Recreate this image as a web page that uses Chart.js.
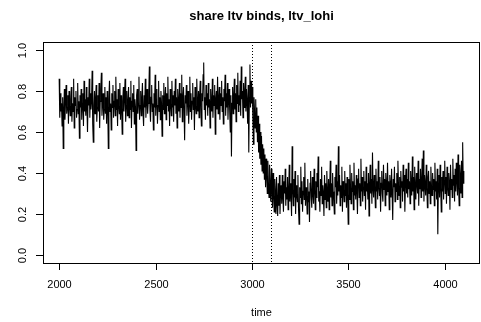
<!DOCTYPE html>
<html>
<head>
<meta charset="utf-8">
<script src="https://cdn.jsdelivr.net/npm/chart.js@4/dist/chart.umd.min.js"></script>
<style>
  html, body { margin: 0; padding: 0; background: #fff; }
  canvas { display: block; }
</style>
</head>
<body>
<canvas id="ltv_chart" width="481" height="322"></canvas>
<script>
// share of ltv binding, sampled every 3 periods from t = 2000
const time_start = 2000;
const time_step = 3;
const share_binds = [
  0.86,0.67,0.79,0.70,0.74,0.63,0.77,0.52,0.71,0.81,0.66,0.75,0.83,0.69,0.72,0.78,0.64,0.80,0.73,0.68,
  0.76,0.82,0.65,0.74,0.70,0.86,0.62,0.77,0.73,0.80,0.67,0.71,0.84,0.69,0.75,0.57,0.78,0.72,0.81,0.66,
  0.74,0.79,0.63,0.85,0.70,0.76,0.68,0.82,0.72,0.60,0.77,0.73,0.86,0.67,0.79,0.71,0.75,0.90,0.64,0.55,
  0.73,0.80,0.69,0.76,0.83,0.65,0.72,0.78,0.70,0.84,0.62,0.75,0.81,0.89,0.68,0.74,0.79,0.66,0.71,0.82,
  0.69,0.77,0.64,0.80,0.73,0.52,0.76,0.85,0.70,0.74,0.61,0.79,0.72,0.83,0.67,0.75,0.80,0.68,0.87,0.71,
  0.76,0.63,0.81,0.73,0.69,0.84,0.66,0.78,0.72,0.59,0.75,0.82,0.70,0.77,0.86,0.65,0.73,0.80,0.68,0.74,
  0.82,0.67,0.77,0.71,0.85,0.62,0.75,0.79,0.70,0.83,0.64,0.76,0.72,0.51,0.78,0.81,0.69,0.74,0.87,0.66,
  0.73,0.80,0.68,0.76,0.84,0.70,0.63,0.78,0.72,0.86,0.67,0.75,0.81,0.69,0.74,0.79,0.92,0.71,0.65,0.77,
  0.83,0.70,0.74,0.61,0.79,0.72,0.88,0.68,0.76,0.81,0.64,0.73,0.85,0.70,0.77,0.66,0.80,0.74,0.58,0.78,
  0.71,0.84,0.69,0.75,0.82,0.66,0.79,0.73,0.87,0.70,0.76,0.63,0.81,0.74,0.68,0.85,0.72,0.78,0.65,0.80,
  0.73,0.86,0.69,0.77,0.62,0.81,0.74,0.70,0.84,0.67,0.79,0.72,0.88,0.65,0.76,0.82,0.71,0.56,0.78,0.74,
  0.83,0.68,0.76,0.80,0.64,0.73,0.87,0.70,0.79,0.66,0.75,0.84,0.71,0.77,0.61,0.82,0.73,0.69,0.86,0.74,
  0.70,0.80,0.67,0.78,0.85,0.72,0.63,0.79,0.75,0.88,0.94,0.71,0.77,0.66,0.83,0.73,0.79,0.68,0.84,0.72,
  0.76,0.62,0.81,0.74,0.70,0.86,0.67,0.78,0.73,0.83,0.59,0.76,0.80,0.71,0.87,0.69,0.75,0.82,0.66,0.79,
  0.73,0.85,0.70,0.77,0.64,0.81,0.75,0.88,0.68,0.79,0.72,0.84,0.66,0.76,0.81,0.70,0.60,0.78,0.48,0.74,
  0.82,0.69,0.77,0.86,0.71,0.79,0.65,0.83,0.74,0.89,0.70,0.78,0.73,0.85,0.68,0.92,0.76,0.80,0.67,0.84,
  0.72,0.79,0.87,0.70,0.81,0.75,0.64,0.83,0.50,0.77,0.93,0.72,0.85,0.74,
  // fall after the switch at t = 3000
  0.82,0.68,0.54,0.77,0.70,0.62,0.76,0.60,0.72,0.55,0.68,0.50,0.64,0.47,0.60,0.44,0.58,0.41,0.54,0.40,
  0.52,0.37,0.49,0.33,0.47,0.39,0.30,0.46,0.35,0.28,0.44,0.33,0.26,0.42,0.31,0.23,0.40,0.29,0.21,0.37,
  0.30,0.20,0.38,0.25,0.19,0.35,0.24,0.39,0.20,0.31,
  // new level
  0.34,0.25,0.39,0.28,0.21,0.36,0.30,0.42,0.24,0.33,0.27,0.38,0.22,0.31,0.44,0.26,0.35,0.29,0.19,0.53,
  0.32,0.24,0.37,0.28,0.41,0.20,0.34,0.30,0.26,0.39,0.23,0.15,0.33,0.28,0.43,0.25,0.36,0.21,0.31,0.38,
  0.27,0.45,0.24,0.33,0.29,0.20,0.37,0.26,0.31,0.16,0.35,0.41,0.28,0.23,0.38,0.30,0.25,0.42,0.32,0.22,
  0.36,0.28,0.40,0.33,0.48,0.26,0.31,0.21,0.37,0.29,0.43,0.25,0.34,0.30,0.19,0.39,0.27,0.35,0.23,0.41,
  0.30,0.26,0.37,0.22,0.33,0.46,0.28,0.35,0.24,0.40,0.31,0.27,0.20,0.38,0.33,0.44,0.25,0.36,0.29,0.53,
  0.31,0.39,0.24,0.34,0.28,0.43,0.21,0.36,0.32,0.26,0.41,0.29,0.35,0.23,0.38,0.30,0.15,0.37,0.27,0.44,
  0.33,0.25,0.40,0.31,0.36,0.22,0.45,0.29,0.34,0.27,0.39,0.32,0.20,0.37,0.42,0.28,0.35,0.24,0.47,0.31,
  0.38,0.26,0.33,0.41,0.29,0.36,0.22,0.43,0.31,0.35,0.27,0.40,0.19,0.34,0.44,0.30,0.37,0.25,0.50,0.32,
  0.28,0.39,0.34,0.23,0.42,0.31,0.36,0.27,0.46,0.33,0.29,0.38,0.21,0.35,0.41,0.30,0.26,0.44,0.32,0.37,
  0.24,0.40,0.33,0.29,0.45,0.31,0.36,0.22,0.39,0.34,0.28,0.42,0.30,0.17,0.37,0.33,0.43,0.26,0.35,0.31,
  0.40,0.27,0.46,0.34,0.29,0.38,0.23,0.41,0.33,0.36,0.26,0.44,0.31,0.39,0.21,0.35,0.42,0.30,0.37,0.28,
  0.45,0.32,0.36,0.25,0.41,0.34,0.29,0.48,0.31,0.38,0.22,0.43,0.33,0.27,0.40,0.35,0.30,0.46,0.24,0.37,
  0.32,0.42,0.28,0.36,0.47,0.31,0.51,0.26,0.39,0.34,0.29,0.44,0.33,0.23,0.38,0.41,0.30,0.36,0.25,0.43,
  0.34,0.29,0.40,0.32,0.37,0.24,0.45,0.31,0.36,0.27,0.42,0.10,0.35,0.39,0.28,0.44,0.33,0.21,0.38,0.31,
  0.41,0.27,0.36,0.46,0.30,0.38,0.25,0.43,0.33,0.29,0.40,0.35,0.22,0.44,0.32,0.37,0.28,0.47,0.34,0.39,
  0.26,0.42,0.31,0.45,0.36,0.29,0.49,0.33,0.24,0.44,0.38,0.30,0.46,0.28,0.55,0.35,0.41
];
const x_ticks = [2000, 2500, 3000, 3500, 4000];
const y_ticks = [0.0, 0.2, 0.4, 0.6, 0.8, 1.0];
const switch_lines = [3000, 3100];

const title_text = "share ltv binds, ltv_lohi";
const x_title = "time";
const font_family = "'Liberation Sans', Arial, sans-serif";

const points = share_binds.map((v, i) => ({ x: time_start + i * time_step, y: v }));

// base-graphics style axes, box, titles and abline(v=...)
const r_axes = {
  id: "r_axes",
  afterDraw(chart) {
    const ctx = chart.ctx;
    const area = chart.chartArea;
    const xs = chart.scales.x;
    const ys = chart.scales.y;
    ctx.save();
    ctx.strokeStyle = "#000";
    ctx.fillStyle = "#000";
    ctx.lineWidth = 1;

    // dotted vertical lines
    ctx.setLineDash([1, 2]);
    switch_lines.forEach(v => {
      const px = Math.round(xs.getPixelForValue(v)) + 0.5;
      ctx.beginPath();
      ctx.moveTo(px, area.top);
      ctx.lineTo(px, area.bottom);
      ctx.stroke();
    });
    ctx.setLineDash([]);

    // box
    ctx.strokeRect(area.left + 0.5, area.top + 0.5, area.right - area.left - 1, area.bottom - area.top);

    // x axis
    ctx.font = "11px " + font_family;
    ctx.textAlign = "center";
    ctx.textBaseline = "middle";
    x_ticks.forEach(v => {
      const px = Math.round(xs.getPixelForValue(v)) + 0.5;
      ctx.beginPath();
      ctx.moveTo(px, area.bottom);
      ctx.lineTo(px, area.bottom + 7);
      ctx.stroke();
      ctx.fillText(String(v), px, area.bottom + 22);
    });

    // y axis, labels turned parallel to the axis
    y_ticks.forEach(v => {
      const py = Math.round(ys.getPixelForValue(v)) + 0.5;
      ctx.beginPath();
      ctx.moveTo(area.left, py);
      ctx.lineTo(area.left - 7, py);
      ctx.stroke();
      ctx.save();
      ctx.translate(area.left - 20, py);
      ctx.rotate(-Math.PI / 2);
      ctx.fillText(v.toFixed(1), 0, 0);
      ctx.restore();
    });

    // titles
    const mid = (area.left + area.right) / 2;
    ctx.font = "bold 13px " + font_family;
    ctx.fillText(title_text, mid, 16);
    ctx.font = "11px " + font_family;
    ctx.fillText(x_title, mid, 313);
    ctx.restore();
  }
};

new Chart(document.getElementById("ltv_chart"), {
  type: "line",
  data: {
    datasets: [{
      data: points,
      borderColor: "#000",
      borderWidth: 1.1,
      pointRadius: 0,
      tension: 0,
      fill: false
    }]
  },
  options: {
    responsive: false,
    animation: false,
    events: [],
    layout: { padding: { left: 43, right: 1, top: 42, bottom: 59 } },
    scales: {
      x: { type: "linear", min: 1916, max: 4184, display: false },
      y: { type: "linear", min: -0.04, max: 1.04, display: false }
    },
    plugins: {
      legend: { display: false },
      tooltip: { enabled: false }
    }
  },
  plugins: [r_axes]
});
</script>
</body>
</html>
